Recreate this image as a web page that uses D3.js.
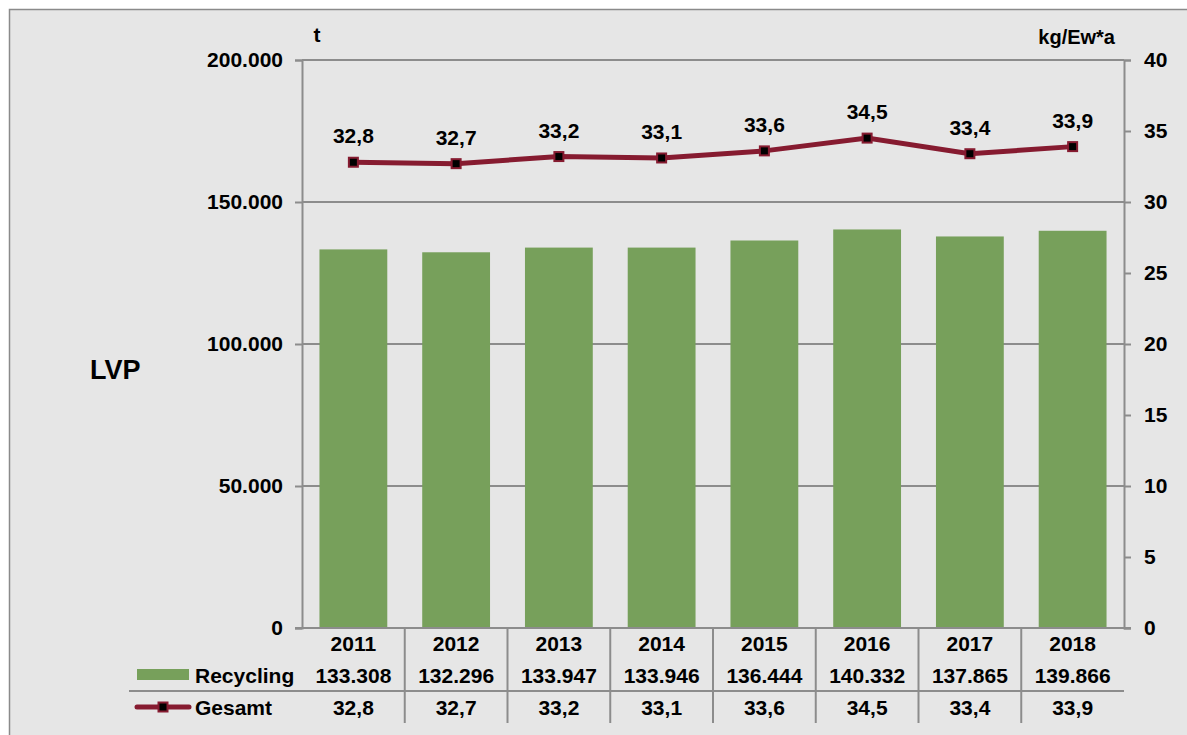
<!DOCTYPE html>
<html>
<head>
<meta charset="utf-8">
<script src="https://cdn.jsdelivr.net/npm/d3@7"></script>
<style>
  body { margin: 0; background: #fff; }
  text { font-family: "Liberation Sans", Arial, sans-serif; font-weight: bold; fill: #000; }
</style>
</head>
<body>
<script>
var w = 1187;
var h = 735;

// Data
var years = ["2011", "2012", "2013", "2014", "2015", "2016", "2017", "2018"];
var recycling = [133308, 132296, 133947, 133946, 136444, 140332, 137865, 139866];
var gesamt = [32.8, 32.7, 33.2, 33.1, 33.6, 34.5, 33.4, 33.9];
var leftTicks = [0, 50000, 100000, 150000, 200000];
var rightTicks = [0, 5, 10, 15, 20, 25, 30, 35, 40];

var de = d3.formatLocale({decimal: ",", thousands: ".", grouping: [3], currency: ["", " €"]});
var fmtT = de.format(",d");
var fmtKg = de.format(".1f");

var grey = "#8c8c8c";
var barColor = "#77a05b";
var lineColor = "#861b30";
var fs = 21;

var svg = d3.select("body").append("svg")
    .attr("width", w)
    .attr("height", h);

// background box
svg.append("rect")
    .attr("x", 9.5).attr("y", 9.5)
    .attr("width", w + 10).attr("height", h + 10)
    .attr("fill", "#e6e6e6")
    .attr("stroke", "#8a8a8a")
    .attr("stroke-width", 1.5);

var pLeft = 302, pRight = 1124, pTop = 60, pBottom = 628;

var x = d3.scaleBand()
    .domain(years)
    .range([pLeft, pRight])
    .paddingInner(0.34)
    .paddingOuter(0.17);

var yL = d3.scaleLinear().domain([0, 200000]).range([pBottom, pTop]);
var yR = d3.scaleLinear().domain([0, 40]).range([pBottom, pTop]);

// gridlines
svg.append("g").selectAll("line")
    .data(leftTicks.slice(1))
    .enter().append("line")
    .attr("x1", pLeft).attr("x2", pRight)
    .attr("y1", function(d) { return yL(d); })
    .attr("y2", function(d) { return yL(d); })
    .attr("stroke", grey).attr("stroke-width", 2);

// bars
svg.append("g").selectAll("rect")
    .data(recycling)
    .enter().append("rect")
    .attr("x", function(d, i) { return x(years[i]); })
    .attr("y", function(d) { return yL(d); })
    .attr("width", x.bandwidth())
    .attr("height", function(d) { return pBottom - yL(d); })
    .attr("fill", barColor);

// axes
var yAxisL = d3.axisLeft(yL).tickValues(leftTicks).tickSize(7).tickPadding(12).tickFormat(fmtT);
var yAxisR = d3.axisRight(yR).tickValues(rightTicks).tickSize(7).tickPadding(13).tickFormat(d3.format("d"));

var gL = svg.append("g").attr("transform", "translate(" + pLeft + ",0)").call(yAxisL);
var gR = svg.append("g").attr("transform", "translate(" + pRight + ",0)").call(yAxisR);
[gL, gR].forEach(function(g) {
    g.select(".domain").attr("stroke", grey).attr("stroke-width", 2);
    g.selectAll(".tick line").attr("stroke", grey).attr("stroke-width", 2);
    g.selectAll(".tick text").attr("font-size", fs).attr("font-family", "Liberation Sans, Arial, sans-serif")
        .attr("font-weight", "bold").attr("fill", "#000");
});

// bottom axis line
svg.append("line")
    .attr("x1", pLeft - 7).attr("x2", pRight + 7)
    .attr("y1", pBottom).attr("y2", pBottom)
    .attr("stroke", grey).attr("stroke-width", 2);

// line series
var cx = function(i) { return x(years[i]) + x.bandwidth() / 2; };
var line = d3.line()
    .x(function(d, i) { return cx(i); })
    .y(function(d) { return yR(d); });

svg.append("path")
    .datum(gesamt)
    .attr("d", line)
    .attr("fill", "none")
    .attr("stroke", lineColor)
    .attr("stroke-width", 5);

svg.append("g").selectAll("rect")
    .data(gesamt)
    .enter().append("rect")
    .attr("x", function(d, i) { return cx(i) - 4.5; })
    .attr("y", function(d) { return yR(d) - 4.5; })
    .attr("width", 9).attr("height", 9)
    .attr("fill", "#000")
    .attr("stroke", lineColor)
    .attr("stroke-width", 2);

svg.append("g").selectAll("text")
    .data(gesamt)
    .enter().append("text")
    .attr("x", function(d, i) { return cx(i); })
    .attr("y", function(d) { return yR(d) - 19; })
    .attr("text-anchor", "middle")
    .attr("font-size", fs)
    .text(function(d) { return fmtKg(d); });

// unit labels
svg.append("text").attr("x", 317).attr("y", 42).attr("text-anchor", "middle")
    .attr("font-size", fs).text("t");
svg.append("text").attr("x", 1115).attr("y", 44).attr("text-anchor", "end")
    .attr("font-size", 20).text("kg/Ew*a");
svg.append("text").attr("x", 90).attr("y", 379)
    .attr("font-size", 27).text("LVP");

// data table
var rowYears = 651, rowRec = 683, rowGes = 715;
var bandStep = x.step();
svg.append("g").selectAll("line")
    .data(years.slice(1))
    .enter().append("line")
    .attr("x1", function(d) { return x(d) - x.paddingInner() * bandStep / 2; })
    .attr("x2", function(d) { return x(d) - x.paddingInner() * bandStep / 2; })
    .attr("y1", pBottom).attr("y2", 723)
    .attr("stroke", grey).attr("stroke-width", 2);

svg.append("line")
    .attr("x1", 129).attr("x2", pRight)
    .attr("y1", 691).attr("y2", 691)
    .attr("stroke", grey).attr("stroke-width", 2);

svg.append("g").selectAll("text")
    .data(years)
    .enter().append("text")
    .attr("x", function(d) { return x(d) + x.bandwidth() / 2; })
    .attr("y", rowYears)
    .attr("text-anchor", "middle").attr("font-size", fs)
    .text(function(d) { return d; });

svg.append("g").selectAll("text")
    .data(recycling)
    .enter().append("text")
    .attr("x", function(d, i) { return cx(i); })
    .attr("y", rowRec)
    .attr("text-anchor", "middle").attr("font-size", fs)
    .text(function(d) { return fmtT(d); });

svg.append("g").selectAll("text")
    .data(gesamt)
    .enter().append("text")
    .attr("x", function(d, i) { return cx(i); })
    .attr("y", rowGes)
    .attr("text-anchor", "middle").attr("font-size", fs)
    .text(function(d) { return fmtKg(d); });

// legend keys
svg.append("rect")
    .attr("x", 137).attr("y", 669).attr("width", 52).attr("height", 11)
    .attr("fill", barColor);
svg.append("text").attr("x", 195).attr("y", rowRec).attr("font-size", fs).text("Recycling");

svg.append("line")
    .attr("x1", 137).attr("x2", 189).attr("y1", 707).attr("y2", 707)
    .attr("stroke", lineColor).attr("stroke-width", 5).attr("stroke-linecap", "round");
svg.append("rect")
    .attr("x", 158.5).attr("y", 702.5).attr("width", 9).attr("height", 9)
    .attr("fill", "#000").attr("stroke", lineColor).attr("stroke-width", 2);
svg.append("text").attr("x", 195).attr("y", rowGes).attr("font-size", fs).text("Gesamt");
</script>
</body>
</html>
